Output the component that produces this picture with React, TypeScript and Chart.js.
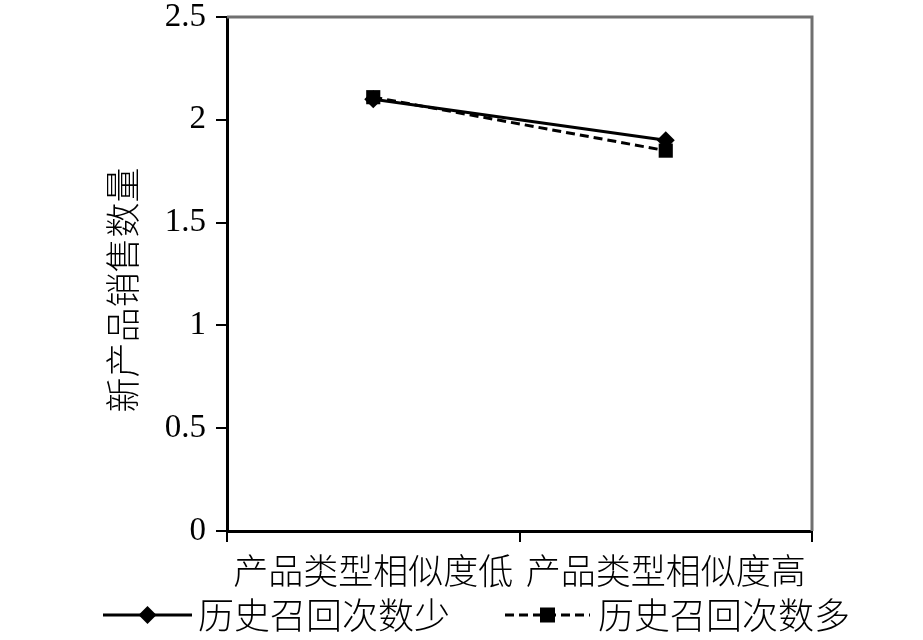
import React, { useEffect, useRef } from 'react';
import { Chart, registerables } from 'chart.js';

Chart.register(...registerables);

const categories = ['产品类型相似度低', '产品类型相似度高'];
const seriesNames = ['历史召回次数少', '历史召回次数多'];
const fewRecalls = [2.1, 1.9];
const manyRecalls = [2.11, 1.85];
const yTitle = '新产品销售数量';
const yMin = 0;
const yMax = 2.5;
const yStep = 0.5;

const CJK = '"Noto Sans CJK SC", "Noto Sans", sans-serif';
const SERIF = '"Liberation Serif", "DejaVu Serif", serif';

function drawMarker(ctx: CanvasRenderingContext2D, style: string, x: number, y: number, r: number) {
  ctx.beginPath();
  if (style === 'rectRot') {
    ctx.moveTo(x, y - r);
    ctx.lineTo(x + r, y);
    ctx.lineTo(x, y + r);
    ctx.lineTo(x - r, y);
    ctx.closePath();
  } else {
    ctx.rect(x - r * 0.75, y - r * 0.75, r * 1.5, r * 1.5);
  }
  ctx.fill();
}

const decorPlugin = {
  id: 'decor',
  afterDraw(chart: any) {
    const { ctx, chartArea: a } = chart;
    ctx.save();
    // frame top & right
    ctx.strokeStyle = '#707070';
    ctx.lineWidth = 3;
    ctx.beginPath();
    ctx.moveTo(a.left, a.top);
    ctx.lineTo(a.right, a.top);
    ctx.lineTo(a.right, a.bottom);
    ctx.stroke();

    // y title
    ctx.save();
    ctx.translate(123, 290);
    ctx.rotate(-Math.PI / 2);
    ctx.font = `300 35px ${CJK}`;
    ctx.fillStyle = '#000';
    ctx.textAlign = 'center';
    ctx.textBaseline = 'middle';
    ctx.fillText(yTitle, 0, 0);
    ctx.restore();

    // legend
    const ly = 615;
    const items = [
      { x0: 103, x1: 192, tx: 198 },
      { x0: 505, x1: 590, tx: 598 },
    ];
    chart.data.datasets.forEach((ds: any, i: number) => {
      const it = items[i];
      ctx.strokeStyle = ds.borderColor;
      ctx.fillStyle = ds.pointBackgroundColor;
      ctx.lineWidth = ds.borderWidth;
      ctx.setLineDash(ds.borderDash || []);
      ctx.beginPath();
      ctx.moveTo(it.x0, ly);
      ctx.lineTo(it.x1, ly);
      ctx.stroke();
      ctx.setLineDash([]);
      drawMarker(ctx, ds.pointStyle, (it.x0 + it.x1) / 2, ly, ds.pointRadius);
      ctx.font = `300 36px ${CJK}`;
      ctx.fillStyle = '#000';
      ctx.textAlign = 'left';
      ctx.textBaseline = 'middle';
      ctx.fillText(ds.label, it.tx, ly);
    });
    ctx.restore();
  },
};

export default function App() {
  const ref = useRef<HTMLCanvasElement | null>(null);
  useEffect(() => {
    if (!ref.current) return;
    const chart = new Chart(ref.current, {
      type: 'line',
      data: {
        labels: categories,
        datasets: [
          {
            label: seriesNames[0],
            data: fewRecalls,
            borderColor: '#000',
            backgroundColor: '#000',
            pointBackgroundColor: '#000',
            pointBorderColor: '#000',
            borderWidth: 3,
            pointStyle: 'rectRot',
            pointRadius: 9,
            pointBorderWidth: 0,
            tension: 0,
          },
          {
            label: seriesNames[1],
            data: manyRecalls,
            borderColor: '#000',
            backgroundColor: '#000',
            pointBackgroundColor: '#000',
            pointBorderColor: '#000',
            borderWidth: 3,
            borderDash: [9, 5],
            pointStyle: 'rect',
            pointRadius: 10,
            pointBorderWidth: 0,
            tension: 0,
          },
        ],
      },
      options: {
        responsive: false,
        animation: false,
        devicePixelRatio: 1,
        layout: { padding: { left: 0, right: 111, top: 17, bottom: 49 } },
        plugins: { legend: { display: false }, tooltip: { enabled: false } },
        scales: {
          x: {
            type: 'category',
            offset: true,
            grid: {
              display: true,
              drawOnChartArea: false,
              drawTicks: true,
              tickLength: 11,
              color: '#000',
              lineWidth: 2,
              offset: true,
            },
            border: { display: true, color: '#000', width: 3 },
            ticks: {
              color: '#000',
              padding: 8,
              maxRotation: 0,
              autoSkip: false,
              font: { family: CJK, size: 35, weight: '300' as any },
            },
            afterFit(scale: any) {
              scale.height = 60;
              scale.paddingLeft = 0;
              scale.paddingRight = 0;
            },
          },
          y: {
            min: yMin,
            max: yMax,
            grid: {
              display: true,
              drawOnChartArea: false,
              drawTicks: true,
              tickLength: 11,
              color: '#000',
              lineWidth: 2,
            },
            border: { display: true, color: '#000', width: 3 },
            ticks: {
              stepSize: yStep,
              color: '#000',
              padding: 10,
              font: { family: SERIF, size: 33 },
              callback: (v: any) => String(Number(v)),
            },
            afterFit(scale: any) {
              scale.width = 227;
              scale.paddingTop = 0;
              scale.paddingBottom = 0;
            },
          },
        },
      },
      plugins: [decorPlugin],
    });
    return () => chart.destroy();
  }, []);
  return (
    <div style={{ position: 'absolute', left: 0, top: 0, width: 923, height: 640, background: '#fff' }}>
      <canvas ref={ref} width={923} height={640} style={{ display: 'block' }} />
    </div>
  );
}
